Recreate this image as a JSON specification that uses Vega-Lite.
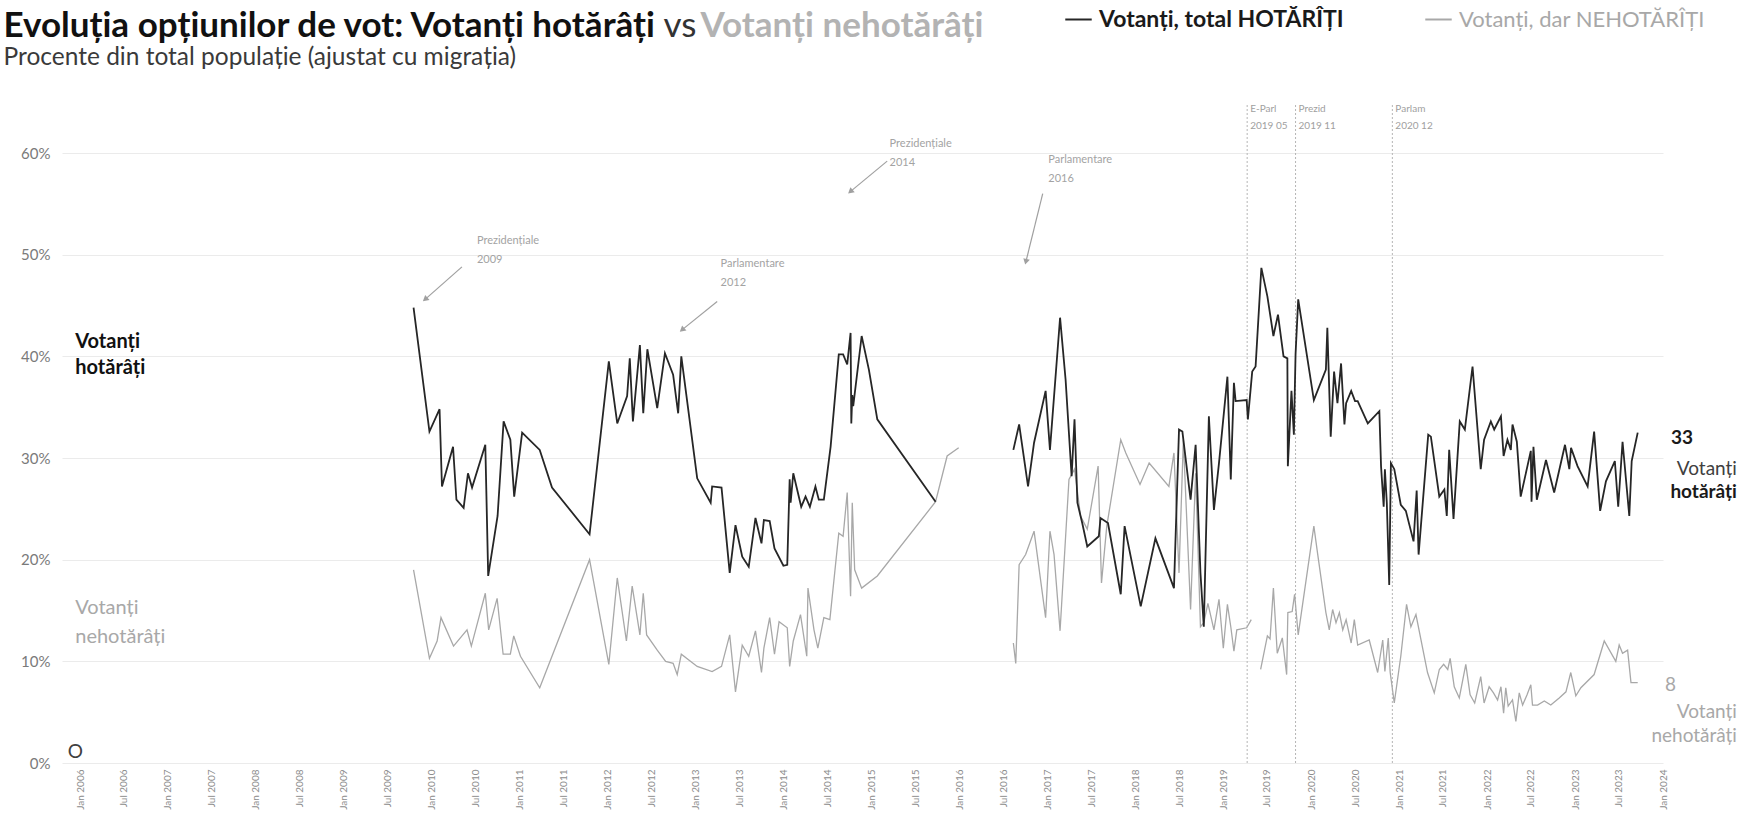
{
 "$schema": "https://vega.github.io/schema/vega-lite/v6.json",
 "width": 1601,
 "height": 671,
 "autosize": "none",
 "padding": {"left": 62, "top": 92, "right": 75, "bottom": 57},
 "background": "white",
 "config": {"font": "Lato", "view": {"stroke": null}},
 "resolve": {"axis": {"x": "independent"}},
 "datasets": {
  "hot": [
   {"d":"2009-10-17","v":44.8,"g":1},{"d":"2009-12-22","v":32.6,"g":1},{"d":"2010-02-02","v":34.8,"g":1},{"d":"2010-02-12","v":27.2,"g":1},
   {"d":"2010-03-30","v":31.1,"g":1},{"d":"2010-04-13","v":25.9,"g":1},{"d":"2010-05-13","v":25.1,"g":1},{"d":"2010-05-31","v":28.5,"g":1},
   {"d":"2010-06-17","v":27.1,"g":1},{"d":"2010-08-11","v":31.3,"g":1},{"d":"2010-08-23","v":18.4,"g":1},{"d":"2010-10-01","v":24.3,"g":1},
   {"d":"2010-10-26","v":33.6,"g":1},{"d":"2010-11-23","v":31.8,"g":1},{"d":"2010-12-09","v":26.2,"g":1},{"d":"2011-01-11","v":32.5,"g":1},
   {"d":"2011-03-25","v":30.8,"g":1},{"d":"2011-05-15","v":27.1,"g":1},{"d":"2011-10-18","v":22.5,"g":1},{"d":"2012-01-06","v":39.5,"g":1},
   {"d":"2012-02-10","v":33.4,"g":1},{"d":"2012-03-22","v":36.1,"g":1},{"d":"2012-04-02","v":39.8,"g":1},{"d":"2012-04-15","v":33.6,"g":1},
   {"d":"2012-05-14","v":41.1,"g":1},{"d":"2012-05-28","v":34.4,"g":1},{"d":"2012-06-14","v":40.7,"g":1},{"d":"2012-07-25","v":34.9,"g":1},
   {"d":"2012-08-26","v":40.3,"g":1},{"d":"2012-09-29","v":38.2,"g":1},{"d":"2012-10-20","v":34.4,"g":1},{"d":"2012-11-02","v":40.0,"g":1},
   {"d":"2013-01-07","v":28.0,"g":1},{"d":"2013-03-04","v":25.6,"g":1},{"d":"2013-03-10","v":27.2,"g":1},{"d":"2013-04-18","v":27.1,"g":1},
   {"d":"2013-05-22","v":18.7,"g":1},{"d":"2013-06-15","v":23.4,"g":1},{"d":"2013-07-13","v":20.3,"g":1},{"d":"2013-08-09","v":19.3,"g":1},
   {"d":"2013-09-06","v":24.1,"g":1},{"d":"2013-10-01","v":21.6,"g":1},{"d":"2013-10-11","v":23.9,"g":1},{"d":"2013-11-04","v":23.8,"g":1},
   {"d":"2013-11-24","v":21.1,"g":1},{"d":"2013-12-31","v":19.4,"g":1},{"d":"2014-01-16","v":19.5,"g":1},{"d":"2014-01-26","v":27.9,"g":1},
   {"d":"2014-01-30","v":25.6,"g":1},{"d":"2014-02-10","v":28.5,"g":1},{"d":"2014-03-15","v":25.2,"g":1},{"d":"2014-04-02","v":26.2,"g":1},
   {"d":"2014-04-20","v":25.2,"g":1},{"d":"2014-05-13","v":27.2,"g":1},{"d":"2014-05-27","v":25.9,"g":1},{"d":"2014-06-17","v":25.9,"g":1},
   {"d":"2014-07-15","v":31.1,"g":1},{"d":"2014-08-18","v":40.2,"g":1},{"d":"2014-09-05","v":40.2,"g":1},{"d":"2014-09-22","v":39.2,"g":1},
   {"d":"2014-10-06","v":42.3,"g":1},{"d":"2014-10-09","v":33.4,"g":1},{"d":"2014-10-13","v":36.2,"g":1},{"d":"2014-10-17","v":35.1,"g":1},
   {"d":"2014-11-21","v":42.0,"g":1},{"d":"2014-12-21","v":38.7,"g":1},{"d":"2015-01-25","v":33.8,"g":1},{"d":"2015-09-24","v":25.7,"g":1},
   {"d":"2016-08-12","v":30.8,"g":2},{"d":"2016-09-05","v":33.3,"g":2},{"d":"2016-10-12","v":27.2,"g":2},{"d":"2016-11-06","v":31.5,"g":2},
   {"d":"2016-12-24","v":36.6,"g":2},{"d":"2017-01-11","v":30.8,"g":2},{"d":"2017-02-22","v":43.8,"g":2},{"d":"2017-03-17","v":37.7,"g":2},
   {"d":"2017-04-11","v":28.2,"g":2},{"d":"2017-04-23","v":33.8,"g":2},{"d":"2017-05-05","v":25.6,"g":2},{"d":"2017-05-25","v":23.6,"g":2},
   {"d":"2017-06-15","v":21.3,"g":2},{"d":"2017-08-02","v":22.3,"g":2},{"d":"2017-08-09","v":24.1,"g":2},{"d":"2017-09-09","v":23.6,"g":2},
   {"d":"2017-11-01","v":16.6,"g":2},{"d":"2017-11-17","v":23.3,"g":2},{"d":"2018-01-23","v":15.4,"g":2},{"d":"2018-03-25","v":22.1,"g":2},
   {"d":"2018-06-10","v":17.2,"g":2},{"d":"2018-07-01","v":32.8,"g":2},{"d":"2018-07-15","v":32.6,"g":2},{"d":"2018-08-18","v":25.9,"g":2},
   {"d":"2018-09-08","v":31.3,"g":2},{"d":"2018-09-28","v":18.7,"g":2},{"d":"2018-10-12","v":13.4,"g":2},{"d":"2018-11-02","v":34.1,"g":2},
   {"d":"2018-11-23","v":24.9,"g":2},{"d":"2018-12-14","v":29.5,"g":2},{"d":"2019-01-18","v":38.0,"g":2},{"d":"2019-02-01","v":27.9,"g":2},
   {"d":"2019-02-14","v":37.4,"g":2},{"d":"2019-02-21","v":35.6,"g":2},{"d":"2019-04-08","v":35.7,"g":2},{"d":"2019-04-13","v":33.8,"g":2},
   {"d":"2019-05-01","v":38.5,"g":2},{"d":"2019-05-15","v":39.0,"g":2},{"d":"2019-06-08","v":48.7,"g":2},{"d":"2019-07-03","v":45.9,"g":2},
   {"d":"2019-07-28","v":42.0,"g":2},{"d":"2019-08-16","v":44.1,"g":2},{"d":"2019-09-08","v":40.0,"g":2},{"d":"2019-09-24","v":39.8,"g":2},
   {"d":"2019-09-26","v":29.2,"g":2},{"d":"2019-10-11","v":36.6,"g":2},{"d":"2019-10-21","v":32.3,"g":2},{"d":"2019-10-28","v":40.2,"g":2},
   {"d":"2019-11-08","v":45.6,"g":2},{"d":"2020-01-12","v":35.7,"g":2},{"d":"2020-03-02","v":38.7,"g":2},{"d":"2020-03-08","v":42.8,"g":2},
   {"d":"2020-03-22","v":32.1,"g":2},{"d":"2020-04-05","v":38.5,"g":2},{"d":"2020-04-19","v":35.4,"g":2},{"d":"2020-05-04","v":39.3,"g":2},
   {"d":"2020-05-18","v":33.3,"g":2},{"d":"2020-05-25","v":35.4,"g":2},{"d":"2020-06-15","v":36.6,"g":2},{"d":"2020-07-01","v":35.6,"g":2},
   {"d":"2020-07-12","v":35.6,"g":2},{"d":"2020-08-23","v":33.4,"g":2},{"d":"2020-10-10","v":34.6,"g":2},{"d":"2020-10-17","v":29.2,"g":2},
   {"d":"2020-10-28","v":25.2,"g":2},{"d":"2020-11-02","v":28.9,"g":2},{"d":"2020-11-10","v":25.6,"g":2},{"d":"2020-11-20","v":17.5,"g":2},
   {"d":"2020-11-27","v":29.5,"g":2},{"d":"2020-12-11","v":28.9,"g":2},{"d":"2021-01-07","v":25.4,"g":2},{"d":"2021-01-28","v":24.8,"g":2},
   {"d":"2021-03-01","v":21.8,"g":2},{"d":"2021-03-14","v":26.8,"g":2},{"d":"2021-03-22","v":20.5,"g":2},{"d":"2021-05-01","v":32.3,"g":2},
   {"d":"2021-05-12","v":32.1,"g":2},{"d":"2021-06-16","v":26.2,"g":2},{"d":"2021-07-07","v":26.9,"g":2},{"d":"2021-07-17","v":24.3,"g":2},
   {"d":"2021-07-27","v":30.8,"g":2},{"d":"2021-08-14","v":24.0,"g":2},{"d":"2021-09-09","v":33.6,"g":2},{"d":"2021-09-30","v":32.8,"g":2},
   {"d":"2021-11-01","v":39.0,"g":2},{"d":"2021-12-05","v":28.9,"g":2},{"d":"2021-12-19","v":31.8,"g":2},{"d":"2022-01-16","v":33.6,"g":2},
   {"d":"2022-01-30","v":32.8,"g":2},{"d":"2022-02-27","v":34.1,"g":2},{"d":"2022-03-10","v":30.2,"g":2},{"d":"2022-03-26","v":31.8,"g":2},
   {"d":"2022-04-09","v":30.8,"g":2},{"d":"2022-04-16","v":33.3,"g":2},{"d":"2022-05-04","v":31.6,"g":2},{"d":"2022-05-20","v":26.2,"g":2},
   {"d":"2022-07-01","v":30.7,"g":2},{"d":"2022-07-04","v":25.7,"g":2},{"d":"2022-07-12","v":31.1,"g":2},{"d":"2022-07-26","v":25.9,"g":2},
   {"d":"2022-09-02","v":29.8,"g":2},{"d":"2022-10-06","v":26.6,"g":2},{"d":"2022-11-20","v":31.3,"g":2},{"d":"2022-12-08","v":28.9,"g":2},
   {"d":"2022-12-15","v":31.0,"g":2},{"d":"2023-01-11","v":29.2,"g":2},{"d":"2023-02-22","v":27.2,"g":2},{"d":"2023-03-21","v":32.6,"g":2},
   {"d":"2023-04-15","v":24.8,"g":2},{"d":"2023-05-09","v":27.7,"g":2},{"d":"2023-06-15","v":29.7,"g":2},{"d":"2023-06-29","v":25.2,"g":2},
   {"d":"2023-07-17","v":31.6,"g":2},{"d":"2023-08-14","v":24.3,"g":2},{"d":"2023-08-24","v":29.7,"g":2},{"d":"2023-09-18","v":32.5,"g":2}
  ],
  "neh": [
   {"d":"2009-10-17","v":19.0,"g":1},{"d":"2009-12-22","v":10.3,"g":1},{"d":"2010-01-23","v":12.0,"g":1},{"d":"2010-02-08","v":14.3,"g":1},
   {"d":"2010-04-01","v":11.5,"g":1},{"d":"2010-05-27","v":13.1,"g":1},{"d":"2010-06-14","v":11.5,"g":1},{"d":"2010-08-11","v":16.7,"g":1},
   {"d":"2010-08-25","v":13.1,"g":1},{"d":"2010-09-29","v":16.2,"g":1},{"d":"2010-10-24","v":10.7,"g":1},{"d":"2010-11-23","v":10.7,"g":1},
   {"d":"2010-12-07","v":12.5,"g":1},{"d":"2011-01-04","v":10.5,"g":1},{"d":"2011-03-25","v":7.4,"g":1},{"d":"2011-10-18","v":20.0,"g":1},
   {"d":"2012-01-06","v":9.7,"g":1},{"d":"2012-02-10","v":18.2,"g":1},{"d":"2012-03-19","v":12.0,"g":1},{"d":"2012-04-12","v":17.4,"g":1},
   {"d":"2012-05-14","v":12.6,"g":1},{"d":"2012-05-28","v":16.7,"g":1},{"d":"2012-06-11","v":12.6,"g":1},{"d":"2012-07-25","v":11.1,"g":1},
   {"d":"2012-08-29","v":10.0,"g":1},{"d":"2012-09-29","v":9.8,"g":1},{"d":"2012-10-16","v":8.7,"g":1},{"d":"2012-11-02","v":10.7,"g":1},
   {"d":"2013-01-07","v":9.5,"g":1},{"d":"2013-03-10","v":9.0,"g":1},{"d":"2013-04-18","v":9.5,"g":1},{"d":"2013-05-22","v":12.6,"g":1},
   {"d":"2013-06-15","v":7.0,"g":1},{"d":"2013-07-13","v":11.6,"g":1},{"d":"2013-08-09","v":10.5,"g":1},{"d":"2013-09-06","v":13.0,"g":1},
   {"d":"2013-10-01","v":8.9,"g":1},{"d":"2013-10-11","v":11.3,"g":1},{"d":"2013-11-04","v":14.3,"g":1},{"d":"2013-11-24","v":10.7,"g":1},
   {"d":"2013-12-13","v":13.9,"g":1},{"d":"2014-01-16","v":13.3,"g":1},{"d":"2014-01-26","v":9.5,"g":1},{"d":"2014-02-10","v":12.0,"g":1},
   {"d":"2014-03-12","v":14.6,"g":1},{"d":"2014-04-07","v":10.5,"g":1},{"d":"2014-04-12","v":17.2,"g":1},{"d":"2014-05-07","v":13.1,"g":1},
   {"d":"2014-05-23","v":11.3,"g":1},{"d":"2014-06-17","v":14.3,"g":1},{"d":"2014-07-12","v":14.1,"g":1},{"d":"2014-08-18","v":22.6,"g":1},
   {"d":"2014-09-05","v":22.3,"g":1},{"d":"2014-09-22","v":26.6,"g":1},{"d":"2014-10-06","v":16.4,"g":1},{"d":"2014-10-13","v":25.6,"g":1},
   {"d":"2014-10-23","v":19.0,"g":1},{"d":"2014-11-21","v":17.2,"g":1},{"d":"2015-01-25","v":18.4,"g":1},{"d":"2015-09-24","v":25.7,"g":1},
   {"d":"2015-11-11","v":30.2,"g":1},{"d":"2015-12-29","v":31.0,"g":1},
   {"d":"2016-08-12","v":11.8,"g":2},{"d":"2016-08-22","v":9.8,"g":2},{"d":"2016-09-05","v":19.5,"g":2},{"d":"2016-10-02","v":20.5,"g":2},
   {"d":"2016-11-06","v":22.8,"g":2},{"d":"2016-12-24","v":14.3,"g":2},{"d":"2017-01-11","v":22.8,"g":2},{"d":"2017-01-28","v":20.5,"g":2},
   {"d":"2017-02-22","v":13.0,"g":2},{"d":"2017-03-31","v":27.9,"g":2},{"d":"2017-04-23","v":28.9,"g":2},{"d":"2017-05-18","v":24.3,"g":2},
   {"d":"2017-06-15","v":23.0,"g":2},{"d":"2017-07-30","v":29.2,"g":2},{"d":"2017-08-13","v":17.7,"g":2},{"d":"2017-09-04","v":23.3,"g":2},
   {"d":"2017-11-01","v":31.8,"g":2},{"d":"2017-11-22","v":30.5,"g":2},{"d":"2018-01-20","v":27.4,"g":2},{"d":"2018-02-27","v":29.5,"g":2},
   {"d":"2018-05-20","v":27.2,"g":2},{"d":"2018-06-10","v":30.5,"g":2},{"d":"2018-07-01","v":18.7,"g":2},{"d":"2018-07-19","v":31.8,"g":2},
   {"d":"2018-08-18","v":15.1,"g":2},{"d":"2018-09-08","v":28.5,"g":2},{"d":"2018-09-28","v":13.4,"g":2},{"d":"2018-10-12","v":13.8,"g":2},
   {"d":"2018-10-29","v":15.7,"g":2},{"d":"2018-11-23","v":13.1,"g":2},{"d":"2018-12-14","v":16.1,"g":2},{"d":"2019-01-01","v":11.3,"g":2},
   {"d":"2019-01-18","v":15.6,"g":2},{"d":"2019-02-01","v":13.4,"g":2},{"d":"2019-02-14","v":11.0,"g":2},{"d":"2019-02-26","v":13.1,"g":2},
   {"d":"2019-04-08","v":13.3,"g":2},{"d":"2019-04-27","v":14.1,"g":2},
   {"d":"2019-06-05","v":9.2,"g":3},{"d":"2019-07-03","v":12.5,"g":3},{"d":"2019-07-14","v":12.2,"g":3},{"d":"2019-07-28","v":17.2,"g":3},
   {"d":"2019-08-13","v":10.8,"g":3},{"d":"2019-09-03","v":12.3,"g":3},{"d":"2019-09-21","v":8.7,"g":3},{"d":"2019-09-26","v":14.8,"g":3},
   {"d":"2019-10-14","v":14.9,"g":3},{"d":"2019-10-24","v":16.6,"g":3},{"d":"2019-11-08","v":12.6,"g":3},{"d":"2020-01-12","v":23.3,"g":3},
   {"d":"2020-01-27","v":20.7,"g":3},{"d":"2020-03-02","v":14.8,"g":3},{"d":"2020-03-16","v":13.1,"g":3},{"d":"2020-03-30","v":15.1,"g":3},
   {"d":"2020-04-13","v":13.8,"g":3},{"d":"2020-04-27","v":14.8,"g":3},{"d":"2020-05-11","v":13.1,"g":3},{"d":"2020-05-25","v":14.1,"g":3},
   {"d":"2020-06-15","v":11.8,"g":3},{"d":"2020-06-28","v":14.1,"g":3},{"d":"2020-07-12","v":11.6,"g":3},{"d":"2020-08-29","v":12.1,"g":3},
   {"d":"2020-10-03","v":8.9,"g":3},{"d":"2020-10-24","v":12.1,"g":3},{"d":"2020-11-02","v":9.0,"g":3},{"d":"2020-11-16","v":12.3,"g":3},
   {"d":"2020-11-24","v":8.9,"g":3},{"d":"2020-12-11","v":5.9,"g":3},{"d":"2021-01-07","v":10.5,"g":3},{"d":"2021-01-31","v":15.6,"g":3},
   {"d":"2021-02-18","v":13.4,"g":3},{"d":"2021-03-11","v":14.6,"g":3},{"d":"2021-04-28","v":8.9,"g":3},{"d":"2021-05-26","v":6.9,"g":3},
   {"d":"2021-06-16","v":9.2,"g":3},{"d":"2021-07-04","v":9.7,"g":3},{"d":"2021-07-21","v":9.2,"g":3},{"d":"2021-07-31","v":10.3,"g":3},
   {"d":"2021-08-17","v":7.5,"g":3},{"d":"2021-09-07","v":6.4,"g":3},{"d":"2021-10-04","v":9.7,"g":3},{"d":"2021-10-22","v":6.7,"g":3},
   {"d":"2021-11-10","v":5.9,"g":3},{"d":"2021-12-05","v":8.5,"g":3},{"d":"2021-12-19","v":5.9,"g":3},{"d":"2022-01-09","v":7.5,"g":3},
   {"d":"2022-01-27","v":6.9,"g":3},{"d":"2022-02-13","v":6.2,"g":3},{"d":"2022-02-27","v":7.5,"g":3},{"d":"2022-03-10","v":4.9,"g":3},
   {"d":"2022-03-19","v":7.4,"g":3},{"d":"2022-03-29","v":5.6,"g":3},{"d":"2022-04-16","v":6.2,"g":3},{"d":"2022-04-30","v":4.1,"g":3},
   {"d":"2022-05-14","v":6.9,"g":3},{"d":"2022-05-28","v":5.7,"g":3},{"d":"2022-06-15","v":6.7,"g":3},{"d":"2022-07-01","v":7.7,"g":3},
   {"d":"2022-07-08","v":5.7,"g":3},{"d":"2022-07-29","v":5.7,"g":3},{"d":"2022-08-26","v":6.1,"g":3},{"d":"2022-09-22","v":5.7,"g":3},
   {"d":"2022-10-27","v":6.4,"g":3},{"d":"2022-11-24","v":7.0,"g":3},{"d":"2022-12-14","v":8.9,"g":3},{"d":"2023-01-04","v":6.6,"g":3},
   {"d":"2023-01-25","v":7.4,"g":3},{"d":"2023-03-21","v":8.7,"g":3},{"d":"2023-05-02","v":12.0,"g":3},{"d":"2023-06-19","v":10.0,"g":3},
   {"d":"2023-07-03","v":11.6,"g":3},{"d":"2023-07-17","v":10.8,"g":3},{"d":"2023-08-07","v":11.1,"g":3},{"d":"2023-08-21","v":7.9,"g":3},
   {"d":"2023-09-18","v":7.9,"g":3}
  ],
  "ev": [
   {"d":"2019-04-10","t":"E-Parl\n2019 05"},
   {"d":"2019-10-28","t":"Prezid\n2019 11"},
   {"d":"2020-12-03","t":"Parlam\n2020 12"}
  ],
  "arr": [
   {"k":"p09","x1":"2010-05-06","y1":48.8,"x2":"2009-12-04","y2":45.6},
   {"k":"p12","x1":"2013-03-31","y1":45.4,"x2":"2012-11-05","y2":42.6},
   {"k":"p14","x1":"2015-03-07","y1":59.2,"x2":"2014-10-05","y2":56.2},
   {"k":"p16","x1":"2016-12-12","y1":56.0,"x2":"2016-10-03","y2":49.3}
  ],
  "ann": [
   {"d":"2010-07-07","v":51.3,"t":"Prezidențiale\n2009"},
   {"d":"2013-04-14","v":49.1,"t":"Parlamentare\n2012"},
   {"d":"2015-03-17","v":60.9,"t":"Prezidențiale\n2014"},
   {"d":"2017-01-04","v":59.3,"t":"Parlamentare\n2016"}
  ],
  "labL": [
   {"k":"h","d":"2005-12-12","v":41.4,"t":"Votanți\nhotărâți"},
   {"k":"n","d":"2005-12-12","v":15.2,"t":"Votanți\nnehotărâți"}
  ],
  "labR": [
   {"k":"h1","d":"2024-11-03","v":28.95,"t":"Votanți"},
   {"k":"h2","d":"2024-11-03","v":26.7,"t":"hotărâți"},
   {"k":"hv","d":"2024-05-05","v":31.95,"t":"33"},
   {"k":"n","d":"2024-11-03","v":5.05,"t":"Votanți\nnehotărâți"},
   {"k":"nv","d":"2024-02-24","v":7.7,"t":"8"}
  ],
  "mk": [{"d":"2005-12-12","v":1.1,"t":"O"}]
 },
 "layer": [
  {
   "data": {"name": "ev"},
   "mark": {"type": "rule", "strokeDash": [2, 2], "color": "#b5b5b5", "strokeWidth": 1},
   "encoding": {
    "x": {"field": "d", "type": "temporal", "scale": {"type": "utc"},
     "axis": {"orient": "top", "labels": false, "ticks": false, "domain": false, "grid": false,
      "title": "Evoluția opțiunilor de vot: Votanți hotărâți", "titleX": -59, "titleY": -56, "titleAlign": "left", "titleAnchor": "start",
      "titleBaseline": "alphabetic", "titleAngle": 0, "titleFont": "Lato", "titleFontSize": 35, "titleFontWeight": "bold", "titleColor": "#111111", "titleLimit": 1200}},
    "y": {"datum": 0, "type": "quantitative"},
    "y2": {"datum": 64.8}
   }
  },
  {
   "data": {"name": "ev"},
   "mark": {"type": "text", "align": "left", "baseline": "top", "dx": 3, "fontSize": 10, "color": "#a0a0a0", "lineBreak": "\n", "lineHeight": 17},
   "encoding": {
    "x": {"field": "d", "type": "temporal", "scale": {"type": "utc"},
     "axis": {"orient": "top", "labels": false, "ticks": false, "domain": false, "grid": false,
      "title": "Procente din total populație (ajustat cu migrația)", "titleX": -59, "titleY": -28, "titleAlign": "left", "titleAnchor": "start",
      "titleBaseline": "alphabetic", "titleAngle": 0, "titleFont": "Lato", "titleFontSize": 24.5, "titleFontWeight": "normal", "titleColor": "#3a3a3a", "titleLimit": 1200}},
    "y": {"datum": 64.85, "type": "quantitative"},
    "text": {"field": "t"}
   }
  },
  {
   "data": {"name": "neh"},
   "mark": {"type": "line", "strokeWidth": 1.3},
   "encoding": {
    "x": {"field": "d", "type": "temporal", "scale": {"type": "utc"},
     "axis": {"orient": "top", "labels": false, "ticks": false, "domain": false, "grid": false,
      "title": "Votanți nehotărâți", "titleX": 638, "titleY": -56, "titleAlign": "left", "titleAnchor": "start",
      "titleBaseline": "alphabetic", "titleAngle": 0, "titleFont": "Lato", "titleFontSize": 35, "titleFontWeight": "bold", "titleColor": "#b3b3b3", "titleLimit": 1200}},
    "y": {"field": "v", "type": "quantitative"},
    "detail": {"field": "g"},
    "color": {"datum": "Votanți, dar NEHOTĂRÎȚI", "scale": {"range": ["#a8a8a8"]},
     "legend": {"orient": "none", "legendX": 1362, "legendY": -87, "title": null, "symbolType": "stroke", "symbolSize": 700, "symbolStrokeWidth": 2,
      "labelFont": "Lato", "labelFontSize": 22, "labelColor": "#a8a8a8", "labelFontWeight": "normal", "labelOffset": 6, "labelLimit": 500}}
   }
  },
  {
   "data": {"name": "hot"},
   "mark": {"type": "line", "strokeWidth": 1.8},
   "encoding": {
    "x": {"field": "d", "type": "temporal",
     "scale": {"type": "utc", "domain": [{"year": 2005, "month": 10, "date": 18, "utc": true}, {"year": 2024, "month": 1, "date": 1, "utc": true}], "nice": false},
     "axis": {"orient": "bottom", "format": "%b %Y", "tickCount": {"interval": "month", "step": 6}, "labelAngle": 270, "labelPadding": 6,
      "labelFontSize": 10, "labelColor": "#8c8c8c", "labelOverlap": false, "labelFlush": false, "labelBound": false,
      "ticks": false, "domain": false, "grid": false, "title": null}},
    "y": {"field": "v", "type": "quantitative", "scale": {"domain": [0, 66], "nice": false},
     "axis": {"values": [0, 10, 20, 30, 40, 50, 60], "labelExpr": "datum.value + '%'", "grid": true, "gridColor": "#ebebeb", "gridWidth": 1,
      "domain": false, "ticks": false, "labelPadding": 12, "labelFontSize": 15, "labelColor": "#7a7a7a", "title": null}},
    "detail": {"field": "g"},
    "stroke": {"datum": "Votanți, total HOTĂRÎȚI", "scale": {"range": ["#262626"]},
     "legend": {"orient": "none", "legendX": 1002, "legendY": -87, "title": null, "symbolType": "stroke", "symbolSize": 700, "symbolStrokeWidth": 2,
      "labelFont": "Lato", "labelFontSize": 23, "labelColor": "#1a1a1a", "labelFontWeight": "bold", "labelOffset": 6, "labelLimit": 500}}
   }
  },
  {
   "data": {"name": "arr"},
   "mark": {"type": "rule", "color": "#a0a0a0", "strokeWidth": 1.2},
   "encoding": {
    "x": {"field": "x1", "type": "temporal", "scale": {"type": "utc"}, "axis": null},
    "x2": {"field": "x2"},
    "y": {"field": "y1", "type": "quantitative"},
    "y2": {"field": "y2"}
   }
  },
  {
   "data": {"name": "arr"},
   "transform": [{"filter": "datum.k != 'p16'"}],
   "mark": {"type": "point", "shape": "triangle-up", "filled": true, "size": 45, "angle": 230, "color": "#a0a0a0", "opacity": 1},
   "encoding": {
    "x": {"field": "x2", "type": "temporal", "scale": {"type": "utc"}, "axis": null},
    "y": {"field": "y2", "type": "quantitative"}
   }
  },
  {
   "data": {"name": "arr"},
   "transform": [{"filter": "datum.k == 'p16'"}],
   "mark": {"type": "point", "shape": "triangle-up", "filled": true, "size": 45, "angle": 194, "color": "#a0a0a0", "opacity": 1},
   "encoding": {
    "x": {"field": "x2", "type": "temporal", "scale": {"type": "utc"}, "axis": null},
    "y": {"field": "y2", "type": "quantitative"}
   }
  },
  {
   "data": {"name": "ann"},
   "mark": {"type": "text", "align": "left", "baseline": "middle", "fontSize": 11, "color": "#a3a3a3", "lineBreak": "\n", "lineHeight": 19},
   "encoding": {
    "x": {"field": "d", "type": "temporal", "scale": {"type": "utc"},
     "axis": {"orient": "top", "labels": false, "ticks": false, "domain": false, "grid": false,
      "title": "vs", "titleX": 601, "titleY": -56, "titleAlign": "left", "titleAnchor": "start",
      "titleBaseline": "alphabetic", "titleAngle": 0, "titleFont": "Lato", "titleFontSize": 35, "titleFontWeight": "normal", "titleColor": "#333333"}},
    "y": {"field": "v", "type": "quantitative"},
    "text": {"field": "t"}
   }
  },
  {
   "data": {"name": "labL"},
   "transform": [{"filter": "datum.k == 'h'"}],
   "mark": {"type": "text", "align": "left", "baseline": "middle", "fontSize": 20, "fontWeight": "bold", "color": "#111111", "lineBreak": "\n", "lineHeight": 26},
   "encoding": {
    "x": {"field": "d", "type": "temporal", "scale": {"type": "utc"}, "axis": null},
    "y": {"field": "v", "type": "quantitative"},
    "text": {"field": "t"}
   }
  },
  {
   "data": {"name": "labL"},
   "transform": [{"filter": "datum.k == 'n'"}],
   "mark": {"type": "text", "align": "left", "baseline": "middle", "fontSize": 20, "color": "#a8a8a8", "lineBreak": "\n", "lineHeight": 29},
   "encoding": {
    "x": {"field": "d", "type": "temporal", "scale": {"type": "utc"}, "axis": null},
    "y": {"field": "v", "type": "quantitative"},
    "text": {"field": "t"}
   }
  },
  {
   "data": {"name": "labR"},
   "transform": [{"filter": "datum.k == 'h1'"}],
   "mark": {"type": "text", "align": "right", "baseline": "middle", "fontSize": 19, "color": "#404040"},
   "encoding": {
    "x": {"field": "d", "type": "temporal", "scale": {"type": "utc"}, "axis": null},
    "y": {"field": "v", "type": "quantitative"},
    "text": {"field": "t"}
   }
  },
  {
   "data": {"name": "labR"},
   "transform": [{"filter": "datum.k == 'h2' || datum.k == 'hv'"}],
   "mark": {"type": "text", "align": "right", "baseline": "middle", "fontSize": 19, "fontWeight": "bold", "color": "#1a1a1a"},
   "encoding": {
    "x": {"field": "d", "type": "temporal", "scale": {"type": "utc"}, "axis": null},
    "y": {"field": "v", "type": "quantitative"},
    "text": {"field": "t"}
   }
  },
  {
   "data": {"name": "labR"},
   "transform": [{"filter": "datum.k == 'n' || datum.k == 'nv'"}],
   "mark": {"type": "text", "align": "right", "baseline": "middle", "fontSize": 19, "color": "#a8a8a8", "lineBreak": "\n", "lineHeight": 24},
   "encoding": {
    "x": {"field": "d", "type": "temporal", "scale": {"type": "utc"}, "axis": null},
    "y": {"field": "v", "type": "quantitative"},
    "text": {"field": "t"}
   }
  },
  {
   "data": {"name": "mk"},
   "mark": {"type": "text", "align": "center", "baseline": "middle", "fontSize": 19, "color": "#404040"},
   "encoding": {
    "x": {"field": "d", "type": "temporal", "scale": {"type": "utc"}, "axis": null},
    "y": {"field": "v", "type": "quantitative"},
    "text": {"field": "t"}
   }
  }
 ]
}
